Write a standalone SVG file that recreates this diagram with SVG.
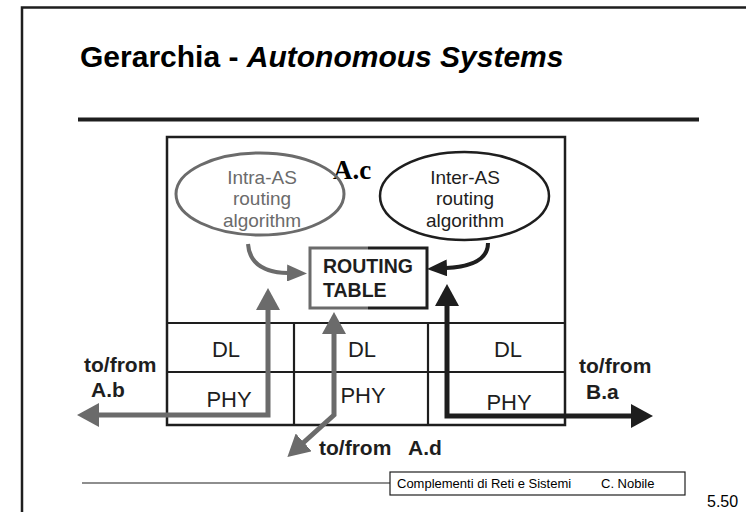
<svg xmlns="http://www.w3.org/2000/svg" width="746" height="512" viewBox="0 0 746 512">
<style>
  text { font-family: "Liberation Sans", Arial, sans-serif; }
  text.serif { font-family: "Liberation Serif", "Times New Roman", serif; }
  .dk { stroke: #1e1e1e; fill: none; }
  .gr { stroke: #6b6b6b; fill: none; }
  .lbl { font-size: 19px; text-anchor: middle; }
  .lay { font-size: 22px; text-anchor: middle; fill: #1e1e1e; }
  .tf { font-size: 21px; font-weight: bold; fill: #1e1e1e; }
</style>
<defs>
  <marker id="mg" markerUnits="userSpaceOnUse" markerWidth="22" markerHeight="24" viewBox="0 0 22 24" refX="1" refY="12" orient="auto-start-reverse">
    <path d="M0,0 L22,12 L0,24 z" fill="#6b6b6b"/>
  </marker>
  <marker id="mb" markerUnits="userSpaceOnUse" markerWidth="22" markerHeight="24" viewBox="0 0 22 24" refX="1" refY="12" orient="auto-start-reverse">
    <path d="M0,0 L22,12 L0,24 z" fill="#1e1e1e"/>
  </marker>
  <marker id="mgs" markerUnits="userSpaceOnUse" markerWidth="20" markerHeight="17" viewBox="0 0 20 17" refX="1" refY="8.5" orient="auto">
    <path d="M0,0 L20,8.5 L0,17 z" fill="#6b6b6b"/>
  </marker>
  <marker id="mbs" markerUnits="userSpaceOnUse" markerWidth="20" markerHeight="17" viewBox="0 0 20 17" refX="1" refY="8.5" orient="auto">
    <path d="M0,0 L20,8.5 L0,17 z" fill="#1e1e1e"/>
  </marker>
</defs>
<rect width="746" height="512" fill="#ffffff"/>

<g id="frame">
  <path class="dk" d="M22,512 V7.5 H746" stroke-width="2.5"/>
  <line class="dk" x1="78" y1="119.5" x2="699" y2="119.5" stroke-width="4"/>
  <text x="80" y="67" font-size="30" font-weight="bold" fill="#000">Gerarchia - <tspan font-style="italic">Autonomous Systems</tspan></text>
</g>

<g id="router">
  <rect class="dk" x="167" y="137" width="398" height="288" stroke-width="2.5"/>
  <line class="dk" x1="167" y1="323" x2="565" y2="323" stroke-width="2.2"/>
  <line class="dk" x1="167" y1="372" x2="565" y2="372" stroke-width="2.2"/>
  <line class="dk" x1="294" y1="323" x2="294" y2="425" stroke-width="2.2"/>
  <line class="dk" x1="428" y1="323" x2="428" y2="425" stroke-width="2.2"/>
  <text class="serif" x="333" y="179" font-size="27" font-weight="bold" fill="#000">A.c</text>
</g>

<g id="intra-as">
  <ellipse class="gr" cx="260" cy="194" rx="84" ry="41" stroke-width="3" stroke="#707070"/>
  <text class="lbl" fill="#6b6b6b"><tspan x="262" y="184">Intra-AS</tspan><tspan x="262" y="205">routing</tspan><tspan x="262" y="227">algorithm</tspan></text>
</g>

<g id="inter-as">
  <ellipse class="dk" cx="464.5" cy="196" rx="84.5" ry="44" stroke-width="2.5"/>
  <text class="lbl" fill="#1e1e1e"><tspan x="465" y="184">Inter-AS</tspan><tspan x="465" y="205">routing</tspan><tspan x="465" y="227">algorithm</tspan></text>
</g>

<g id="routing-table">
  <rect x="310" y="248" width="117" height="60" fill="#fff"/>
  <path class="gr" d="M368,248 H310 V308 H368" stroke-width="3"/>
  <path class="dk" d="M368,248 H427 V308 H368" stroke-width="3"/>
  <text x="323" y="273" font-size="19.5" font-weight="bold" fill="#1e1e1e">ROUTING</text>
  <text x="323" y="297" font-size="19.5" font-weight="bold" fill="#1e1e1e">TABLE</text>
</g>

<g id="port-ab">
  <text class="lay" x="226" y="357">DL</text>
  <text class="lay" x="229" y="407">PHY</text>
</g>
<g id="port-ad">
  <text class="lay" x="362" y="357">DL</text>
  <text class="lay" x="363" y="403">PHY</text>
</g>
<g id="port-ba">
  <text class="lay" x="508" y="357">DL</text>
  <text class="lay" x="509" y="410">PHY</text>
</g>

<g id="connectors">
  <path class="gr" d="M248,244 Q250,272 288,273" stroke-width="4" marker-end="url(#mgs)"/>
  <path class="dk" d="M488,243 Q488,266 446,268" stroke-width="4" marker-end="url(#mbs)"/>
  <path class="gr" d="M268,309 V415 H98" stroke-width="5" marker-start="url(#mg)" marker-end="url(#mg)"/>
  <path class="gr" d="M334,333 V415 L303,443" stroke-width="5" marker-start="url(#mg)" marker-end="url(#mg)"/>
  <path class="dk" d="M447,305 V416 H632" stroke-width="5" marker-start="url(#mb)" marker-end="url(#mb)"/>
</g>

<g id="labels">
  <text class="tf"><tspan x="84" y="372">to/from</tspan><tspan x="91" y="397">A.b</tspan></text>
  <text class="tf"><tspan x="579" y="373">to/from</tspan><tspan x="586" y="399">B.a</tspan></text>
  <text class="tf" y="455"><tspan x="319">to/from</tspan><tspan x="408">A.d</tspan></text>
</g>

<g id="footer">
  <line class="dk" x1="82" y1="483" x2="390" y2="483" stroke-width="1.2"/>
  <rect class="dk" x="390" y="472" width="295" height="23" stroke-width="1.2"/>
  <text x="397" y="488" font-size="13" fill="#000">Complementi di Reti e Sistemi</text>
  <text x="601" y="488" font-size="13" fill="#000">C. Nobile</text>
  <text x="707" y="507" font-size="16" fill="#000">5.50</text>
</g>
</svg>
